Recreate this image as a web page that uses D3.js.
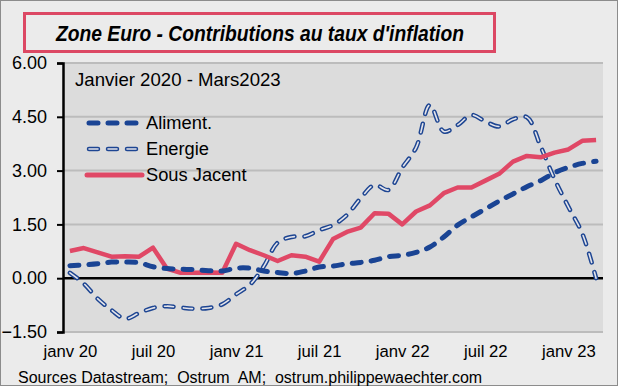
<!DOCTYPE html>
<html>
<head>
<meta charset="utf-8">
<script src="https://cdn.jsdelivr.net/npm/d3@7"></script>
<style>
  body { margin: 0; background: #fff; }
  svg { display: block; font-family: "Liberation Sans", Arial, sans-serif; }
</style>
</head>
<body>
<div id="chart"></div>
<script>
// monthly categories, janv 2020 -> mars 2023
var months = d3.timeMonth.range(new Date(2020, 0, 1), new Date(2023, 3, 1));

var aliment = [0.35, 0.37, 0.40, 0.45, 0.45, 0.43, 0.32, 0.27, 0.25, 0.24, 0.21, 0.20,
  0.28, 0.28, 0.20, 0.16, 0.13, 0.20, 0.31, 0.34, 0.40, 0.44, 0.50, 0.60,
  0.64, 0.72, 0.87, 1.15, 1.48, 1.71, 1.93, 2.15, 2.35, 2.55, 2.72, 2.94,
  3.09, 3.20, 3.26];

var energie = [0.15, -0.15, -0.57, -0.89, -1.13, -0.97, -0.83, -0.78, -0.82, -0.85, -0.83, -0.73,
  -0.45, -0.18, 0.33, 0.99, 1.15, 1.17, 1.34, 1.48, 1.76, 2.23, 2.60, 2.46,
  3.08, 3.64, 4.83, 4.09, 4.27, 4.55, 4.37, 4.23, 4.43, 4.49, 3.67, 2.76,
  1.99, 1.25, 0.0];

var sousJacent = [0.76, 0.84, 0.72, 0.60, 0.61, 0.60, 0.85, 0.27, 0.15, 0.15, 0.16, 0.15,
  0.96, 0.78, 0.64, 0.48, 0.64, 0.60, 0.46, 1.09, 1.29, 1.41, 1.81, 1.80,
  1.50, 1.86, 2.03, 2.37, 2.53, 2.53, 2.72, 2.91, 3.25, 3.41, 3.37, 3.50,
  3.59, 3.83, 3.85];

var yTicks = [-1.5, 0, 1.5, 3, 4.5, 6];
var moisFr = ["janv", "févr", "mars", "avr", "mai", "juin", "juil", "août", "sept", "oct", "nov", "déc"];

var width = 618, height = 386;
var margin = {top: 63, right: 15, bottom: 54, left: 63};

var svg = d3.select("#chart").append("svg")
    .attr("width", width)
    .attr("height", height);

// outer frame
svg.append("rect")
    .attr("x", 0.5).attr("y", 0.5)
    .attr("width", width - 1).attr("height", height - 1)
    .attr("fill", "#ebebeb")
    .attr("stroke", "#8c8c8c");

// title box
svg.append("rect")
    .attr("x", 24.5).attr("y", 13.5)
    .attr("width", 470).attr("height", 38)
    .attr("fill", "#ebebeb")
    .attr("stroke", "#dc4864")
    .attr("stroke-width", 3);

svg.append("text")
    .attr("x", 56).attr("y", 41)
    .attr("font-size", 21.5)
    .attr("font-weight", "bold")
    .attr("font-style", "italic")
    .attr("textLength", 408)
    .attr("lengthAdjust", "spacingAndGlyphs")
    .text("Zone Euro - Contributions au taux d'inflation");

var x = d3.scalePoint()
    .domain(d3.range(months.length))
    .range([margin.left, width - margin.right])
    .padding(0.5);

var y = d3.scaleLinear()
    .domain([-1.5, 6])
    .range([height - margin.bottom, margin.top]);

// plot area
svg.append("rect")
    .attr("x", margin.left).attr("y", margin.top)
    .attr("width", width - margin.left - margin.right)
    .attr("height", height - margin.top - margin.bottom)
    .attr("fill", "#dcdcdc");

// gridlines
svg.append("g")
  .selectAll("line")
  .data(yTicks.filter(function(d) { return d !== 0; }))
  .join("line")
    .attr("x1", margin.left).attr("x2", width - margin.right)
    .attr("y1", function(d) { return y(d); })
    .attr("y2", function(d) { return y(d); })
    .attr("stroke", "#bcbcbc")
    .attr("stroke-width", 2);

// zero line
svg.append("line")
    .attr("x1", margin.left).attr("x2", width - margin.right)
    .attr("y1", y(0)).attr("y2", y(0))
    .attr("stroke", "#000")
    .attr("stroke-width", 2.5);

// y axis
var yAxis = svg.append("g")
    .attr("transform", "translate(" + margin.left + ",0)")
    .call(d3.axisLeft(y).tickValues(yTicks).tickFormat(d3.format(".2f")).tickSize(6).tickPadding(10));
yAxis.select(".domain").attr("stroke-width", 2.5);
yAxis.selectAll(".tick line").attr("stroke-width", 2);
yAxis.selectAll("text").attr("font-size", 18).attr("fill", "#000")
    .attr("font-family", "Liberation Sans, Arial, sans-serif");

// x labels every 6 months
var xAxis = svg.append("g")
    .attr("transform", "translate(0," + (height - margin.bottom) + ")")
    .call(d3.axisBottom(x)
      .tickValues(d3.range(0, months.length, 6))
      .tickSize(0).tickPadding(13)
      .tickFormat(function(i) {
        var m = months[i];
        return moisFr[m.getMonth()] + " " + String(m.getFullYear()).slice(2);
      }));
xAxis.select(".domain").remove();
xAxis.selectAll("text").attr("font-size", 16.7).attr("fill", "#000")
    .attr("font-family", "Liberation Sans, Arial, sans-serif");

var dash = "9,10";

function line(values, curve) {
  return d3.line()
    .x(function(d, i) { return x(i); })
    .y(function(d) { return y(d); })
    .curve(curve)(values);
}

// Energie: outlined dashes
svg.append("path")
    .attr("d", line(energie, d3.curveCatmullRom))
    .attr("fill", "none")
    .attr("stroke", "#1d4592")
    .attr("stroke-width", 4.5)
    .attr("stroke-dasharray", dash)
    .attr("stroke-linecap", "round");
svg.append("path")
    .attr("d", line(energie, d3.curveCatmullRom))
    .attr("fill", "none")
    .attr("stroke", "#e4e4ea")
    .attr("stroke-width", 1.6)
    .attr("stroke-dasharray", dash)
    .attr("stroke-linecap", "round");

// Sous Jacent
svg.append("path")
    .attr("d", line(sousJacent, d3.curveLinear))
    .attr("fill", "none")
    .attr("stroke", "#e04866")
    .attr("stroke-width", 4.5)
    .attr("stroke-linejoin", "round");

// Aliment.
svg.append("path")
    .attr("d", line(aliment, d3.curveCatmullRom))
    .attr("fill", "none")
    .attr("stroke", "#1a4494")
    .attr("stroke-width", 5)
    .attr("stroke-dasharray", dash)
    .attr("stroke-linecap", "round");

// period label
svg.append("text")
    .attr("x", 75).attr("y", 86)
    .attr("font-size", 18.6)
    .text("Janvier 2020 - Mars2023");

// legend
var legend = [
  {name: "Aliment.", type: "alim", y: 123},
  {name: "Energie", type: "ener", y: 149},
  {name: "Sous Jacent", type: "sj", y: 175}
];
var lg = svg.append("g");
legend.forEach(function(d) {
  var x1 = 89, x2 = 138;
  if (d.type === "sj") {
    lg.append("line").attr("x1", 87).attr("x2", 142).attr("y1", d.y).attr("y2", d.y)
      .attr("stroke", "#e04866").attr("stroke-width", 5).attr("stroke-linecap", "round");
  } else if (d.type === "alim") {
    lg.append("line").attr("x1", x1).attr("x2", x2 + 1).attr("y1", d.y).attr("y2", d.y)
      .attr("stroke", "#1a4494").attr("stroke-width", 5).attr("stroke-dasharray", dash)
      .attr("stroke-linecap", "round");
  } else {
    lg.append("line").attr("x1", x1).attr("x2", x2 + 1).attr("y1", d.y).attr("y2", d.y)
      .attr("stroke", "#1d4592").attr("stroke-width", 4.5).attr("stroke-dasharray", dash)
      .attr("stroke-linecap", "round");
    lg.append("line").attr("x1", x1).attr("x2", x2 + 1).attr("y1", d.y).attr("y2", d.y)
      .attr("stroke", "#e4e4ea").attr("stroke-width", 1.6).attr("stroke-dasharray", dash)
      .attr("stroke-linecap", "round");
  }
  lg.append("text")
    .attr("x", 146).attr("y", d.y + 6)
    .attr("font-size", 18.3)
    .text(d.name);
});

// source
svg.append("text")
    .attr("x", 18).attr("y", 383)
    .attr("font-size", 16)
    .attr("xml:space", "preserve")
    .style("white-space", "pre")
    .text("Sources Datastream;  Ostrum  AM;  ostrum.philippewaechter.com");
</script>
</body>
</html>
